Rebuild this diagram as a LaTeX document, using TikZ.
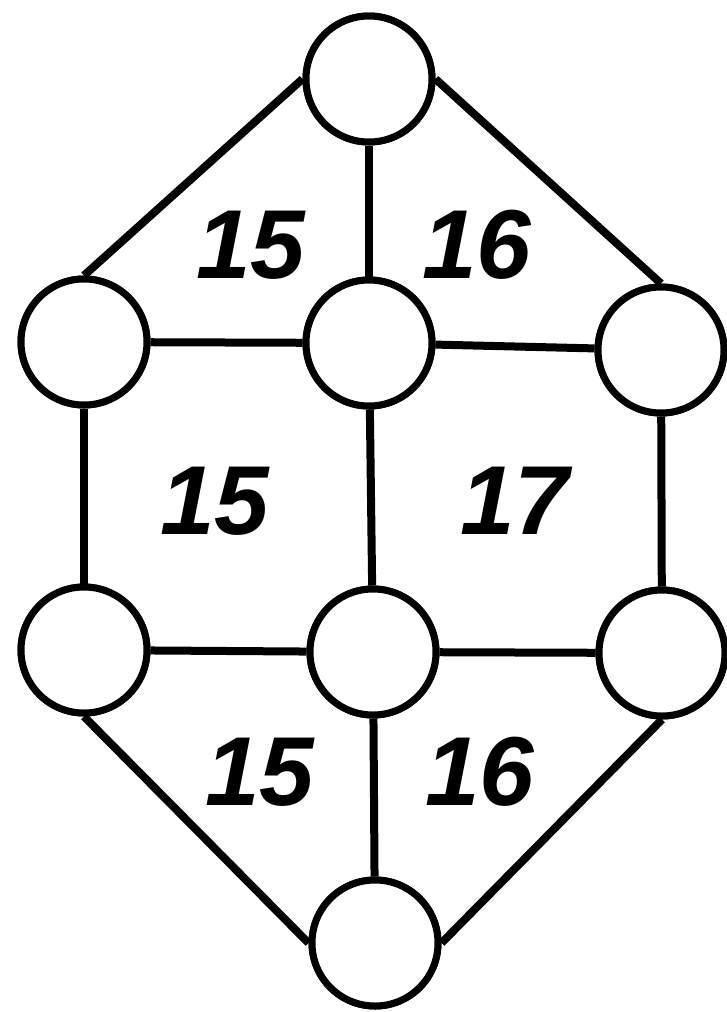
\documentclass[tikz,border=0pt]{standalone}
\usepackage{fontspec}
\setmainfont{Liberation Sans}
\begin{document}
\begin{tikzpicture}[x=1pt,y=-1pt,
  vert/.style={circle,draw=black,fill=white,line width=7pt,minimum size=126pt,inner sep=0pt},
  conn/.style={line width=8pt,draw=black},
  num/.style={font=\fontsize{98}{98}\selectfont\bfseries\itshape,inner sep=0pt}]
\useasboundingbox[fill=white] (0,0) rectangle (726,1012);
\node[vert] (t) at (369,79) {};
\node[vert] (ml) at (84,342) {};
\node[vert] (mc) at (369,343) {};
\node[vert] (mr) at (661,350) {};
\node[vert] (ll) at (84,650) {};
\node[vert] (lc) at (373,652) {};
\node[vert] (lr) at (662,653) {};
\node[vert] (b) at (375,943) {};
\draw[conn] (t.west) -- (ml.north);
\draw[conn] (t.east) -- (mr.north);
\draw[conn] (t) -- (mc);
\draw[conn] (ml) -- (mc);
\draw[conn] (mc) -- (mr);
\draw[conn] (ml) -- (ll);
\draw[conn] (mc) -- (lc);
\draw[conn] (mr) -- (lr);
\draw[conn] (ll) -- (lc);
\draw[conn] (lc) -- (lr);
\draw[conn] (lc) -- (b);
\draw[conn] (ll.south) -- (b.west);
\draw[conn] (lr.south) -- (b.east);
\foreach \n in {t,ml,mc,mr,ll,lc,lr,b} \node[vert] at (\n) {};
\node[num] (a1) at (251,245) {15};
\node[num] (a2) at (477,245) {16};
\node[num] (a3) at (215,501) {15};
\node[num] (a4) at (515,501) {17};
\node[num] (a5) at (260,772) {15};
\node[num] (a6) at (480,772) {16};
\end{tikzpicture}
\end{document}
